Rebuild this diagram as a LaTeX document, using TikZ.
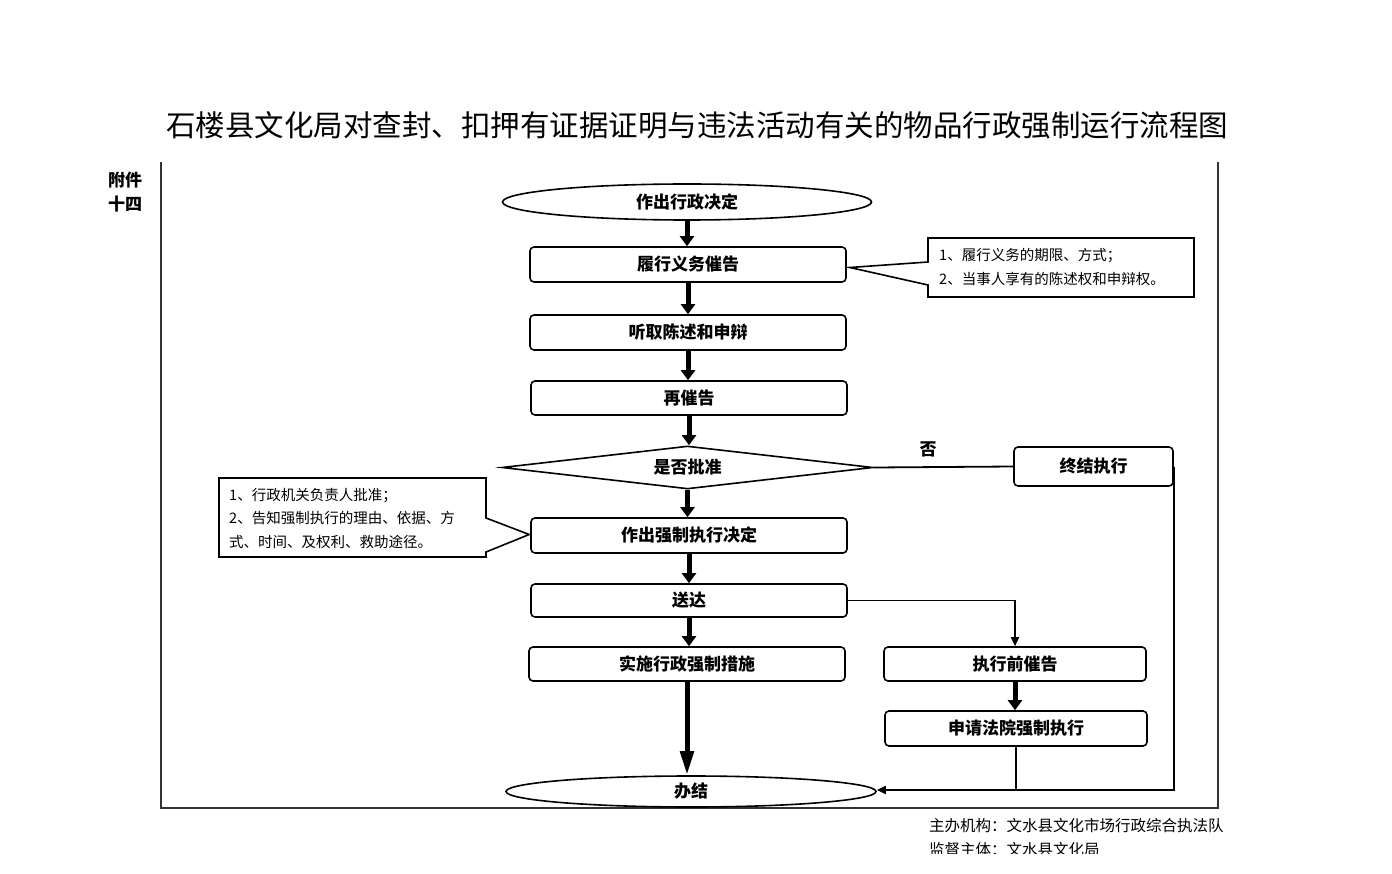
\documentclass[tikz,border=0pt]{standalone}
\usepackage{fontspec}
\newfontfamily\cjk{Noto Sans CJK SC}
\usetikzlibrary{shapes.geometric,arrows.meta}
\begin{document}
\begin{tikzpicture}[x=1pt,y=-1pt,
  boxfont/.style={font=\cjk\bfseries\fontsize{17}{20}\selectfont},
  box/.style={draw,line width=1.6pt,rounded corners=4pt,minimum width=316pt,minimum height=35pt,inner sep=0pt,boxfont},
  oval/.style={draw,ellipse,line width=1.6pt,inner sep=0pt,boxfont},
  fat/.style={line width=5pt,-{Triangle[width=14pt,length=10pt]}},
  longfat/.style={line width=5pt,-{Triangle[width=13pt,length=24pt]}},
  thinline/.style={line width=1.8pt},
  thinarrow/.style={line width=1.8pt,-{Triangle[width=8pt,length=9pt]}},
  note/.style={font=\cjk\fontsize{14.5}{23.5}\selectfont,align=left,inner sep=0pt,anchor=west},
  foot/.style={font=\cjk\fontsize{15.5}{22}\selectfont,inner sep=0pt,anchor=west}
]
\useasboundingbox (0,0) rectangle (1392,874);

% title and side label
\node[font=\cjk\fontsize{29.5}{32}\selectfont,inner sep=0pt] (title) at (697,125) {石楼县文化局对查封、扣押有证据证明与违法活动有关的物品行政强制运行流程图};
\node[font=\cjk\bfseries\fontsize{17}{24}\selectfont,align=center,inner sep=0pt] (att) at (125,192) {附件\\十四};

% frame
\draw[line width=1.3pt,black!80] (161,162) -- (161,808) -- (1218,808) -- (1218,162);

% main flow
\node[oval,minimum width=369pt,minimum height=36pt] (e1) at (687,202) {作出行政决定};
\node[box] (b1) at (688,264.5) {履行义务催告};
\node[box] (b2) at (688,332.5) {听取陈述和申辩};
\node[box,minimum height=34pt] (b3) at (689,398) {再催告};
\node[draw,diamond,aspect=8.6,line width=1.6pt,inner sep=0pt,minimum width=371pt,minimum height=43pt,boxfont] (d) at (687.5,467.5) {是否批准};
\node[box] (b4) at (689,535.5) {作出强制执行决定};
\node[box,minimum height=33pt] (b5) at (689,600.5) {送达};
\node[box,minimum height=34pt] (b6) at (687,664) {实施行政强制措施};
\node[oval,minimum width=370pt,minimum height=31pt] (fin) at (691,791.5) {办结};

% right branch
\node[box,minimum width=262pt,minimum height=34pt] (pre) at (1015,664) {执行前催告};
\node[box,minimum width=262pt] (court) at (1016,728.5) {申请法院强制执行};
\node[box,minimum width=159pt,minimum height=39pt] (end) at (1093.5,466.5) {终结执行};
\node[boxfont,inner sep=0pt] (no) at (928,449) {否};

% fat arrows
\draw[fat] (e1.south) -- (e1.south |- b1.north);
\draw[fat] (b1.south) -- (b1.south |- b2.north);
\draw[fat] (b2.south) -- (b2.south |- b3.north);
\draw[fat] (b3.south) -- (b3.south |- d.north);
\draw[fat] (d.south) -- (d.south |- b4.north);
\draw[fat] (b4.south) -- (b4.south |- b5.north);
\draw[fat] (b5.south) -- (b5.south |- b6.north);
\draw[longfat] (b6.south) -- (b6.south |- fin.north);
\draw[fat] (pre.south) -- (pre.south |- court.north);

% thin connectors
\draw[thinline] (d.east) -- (end.west);
\draw[thinarrow] (b5.east) -| (pre.north);
\coordinate (j) at (end.east |- 0,790);
\draw[thinarrow] (end.east) -- (j) -- (fin.east |- j);
\draw[thinline] (court.south) -- (court.south |- j);

% callout 1
\coordinate (t1) at ([xshift=3pt,yshift=-3pt]b1.east);
\draw[line width=1.6pt,line join=miter] (928,238) -- (1194,238) -- (1194,297) -- (928,297) -- (928,285) -- (t1) -- (928,262) -- cycle;
\node[note] (n1) at (939,267) {1、履行义务的期限、方式；\\2、当事人享有的陈述权和申辩权。};

% callout 2
\coordinate (t2) at ([xshift=-1pt,yshift=1pt]b4.west);
\draw[line width=1.6pt,line join=miter] (219,478) -- (486,478) -- (486,518) -- (t2) -- (486,552) -- (486,557) -- (219,557) -- cycle;
\node[note] (n2) at (229,518.5) {1、行政机关负责人批准；\\2、告知强制执行的理由、依据、方\\式、时间、及权利、救助途径。};

% footer
\begin{scope}
\clip (0,0) rectangle (1392,853);
\node[foot] (f1) at (929,826) {主办机构：文水县文化市场行政综合执法队};
\node[foot] (f2) at (929,850) {监督主体：文水县文化局};
\end{scope}
\end{tikzpicture}
\end{document}
